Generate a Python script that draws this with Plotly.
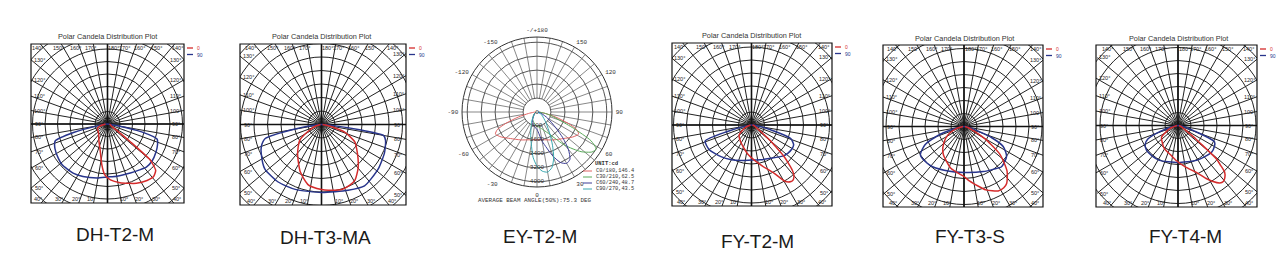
import math
import plotly.graph_objects as go

W, H = 1284, 259

# ---------------- data (relative intensity) ----------------
# DH-T2-M
dh_t2_m_theta_0 = [-90, -75, -65, -50, -39, -25, -15, -8, -3, 3, 12, 26, 35, 41, 46, 48, 50, 52, 55, 60, 75, 90]
dh_t2_m_r_0 = [2, 8, 11, 12, 14, 20, 28, 41, 51, 56, 60, 66, 69, 70, 67, 62, 55, 30, 12, 5, 3, 2]
dh_t2_m_theta_90 = [-90, -80, -76, -72, -65, -55, -48, -35, -25, -11, 0, 10, 25, 35, 42, 50, 60, 68, 73, 77, 80, 90]
dh_t2_m_r_90 = [0, 8, 35, 55, 58, 60, 61, 60, 58, 55, 53, 53, 54, 56, 58, 58, 56, 54, 52, 35, 10, 0]

# DH-T3-MA
dh_t3_ma_theta_0 = [-90, -75, -65, -54, -39, -24, -12, 0, 6, 18, 25, 31, 40, 47, 55, 62, 67, 72, 77, 82, 90]
dh_t3_ma_r_0 = [1, 6, 13, 27, 38, 52, 62, 65, 66, 68, 67, 65, 57, 50, 43, 38, 31, 24, 12, 5, 1]
dh_t3_ma_theta_90 = [-90, -85, -80, -76, -70, -64, -52, -37, -22, 0, 22, 35, 52, 66, 76, 80, 82, 85, 90]
dh_t3_ma_r_90 = [0, 6, 30, 58, 64, 67, 72, 72, 70, 68, 71, 75, 72, 69, 66, 63, 40, 10, 0]

# FY-T2-M
fy_t2_m_theta_0 = [-90, -70, -51, -33, -8, 13, 25, 31, 35, 37, 40, 42, 44, 46, 48, 50, 54, 60, 75, 90]
fy_t2_m_r_0 = [1, 6, 16, 20, 29, 41, 53, 66, 69, 69, 66, 61, 53, 45, 33, 25, 12, 6, 3, 1]
fy_t2_m_theta_90 = [-90, -80, -75, -71, -60, -44, -30, -17, 0, 15, 30, 45, 52, 60, 65, 71, 75, 80, 90]
fy_t2_m_r_90 = [0, 5, 25, 49, 49, 44, 40, 37, 35, 36, 38.5, 44, 46, 47, 46.5, 41.5, 23, 8, 0]

# FY-T3-S
fy_t3_s_theta_0 = [-90, -75, -65, -57, -45, -36, -17, 0, 6, 19, 28, 33, 37, 44, 52, 59, 65, 75, 90]
fy_t3_s_r_0 = [1, 8, 16, 22, 30, 35, 44, 50, 55, 67, 73, 73, 71, 62, 46, 26, 12, 4, 1]
fy_t3_s_theta_90 = [-90, -78, -72, -65, -57, -45, -38, -18, 0, 23, 35, 43, 55, 63, 68, 72, 80, 90]
fy_t3_s_r_90 = [0, 8, 25, 43, 52, 52, 51, 47, 46, 49, 52, 55, 52, 44, 30, 15, 5, 0]

# FY-T4-M
fy_t4_m_theta_0 = [-90, -70, -55, -40, -30, -15, -3, 10, 21, 28, 32, 36, 39, 42, 45, 47, 49, 51, 53, 56, 65, 90]
fy_t4_m_r_0 = [1, 8, 20, 24, 27, 30, 35, 42, 50, 60, 66, 71, 72, 70, 66, 58, 51, 32, 22, 12, 5, 1]
fy_t4_m_theta_90 = [-90, -78, -72, -66, -60, -52, -40, -28, 0, 28, 40, 51, 60, 66, 70, 78, 90]
fy_t4_m_r_90 = [0, 5, 18, 33, 38, 40, 40, 39.5, 37, 39.5, 41, 43, 42, 40, 22, 5, 0]

# EY-T2-M (cd)
ey_c0_theta = [-90, -85, -80, -75, -70, -66, -62, -55, -45, -30, -15, 0, 15, 30, 45, 55, 62, 66, 70, 75, 80, 85, 90]
ey_c0_r = [60, 200, 500, 1100, 1900, 2500, 2700, 2500, 2150, 1850, 1650, 1600, 1650, 1850, 2150, 2500, 2700, 2500, 1900, 1100, 500, 200, 60]
ey_c30_theta = [-90, -60, -45, -30, -15, 0, 10, 20, 30, 40, 48, 54, 58, 62, 66, 70, 75, 80, 90]
ey_c30_r = [50, 150, 300, 500, 650, 800, 900, 1100, 1500, 2500, 3400, 3900, 4000, 3500, 2300, 1400, 900, 500, 100]
ey_c60_theta = [-90, -60, -30, -15, 0, 10, 20, 25, 30, 35, 40, 45, 50, 60, 70, 90]
ey_c60_r = [50, 150, 500, 800, 1000, 1700, 2700, 3200, 3400, 3300, 2800, 2100, 1400, 700, 300, 50]
ey_c90_theta = [-90, -60, -30, -15, -5, 0, 5, 10, 15, 20, 25, 30, 40, 60, 90]
ey_c90_r = [50, 150, 600, 1400, 2600, 3100, 3400, 3500, 3300, 2800, 2100, 1500, 800, 300, 50]

ey_ring_values = [800, 1600, 2400, 3200, 4000]
ey_angle_ticks = [0, 30, 60, 90, 120, 150, 180, 210, 240, 270, 300, 330]
ey_angle_text = ["0", "30", "60", "90", "120", "150", "-/+180", "-150", "-120", "-90", "-60", "-30"]
ey_series_names = ["C0/180,146.4", "C30/210,62.5", "C60/240,48.7", "C90/270,43.5"]
ey_beam_text = "AVERAGE BEAM ANGLE(50%):75.3 DEG"

panel_names = ["DH-T2-M", "DH-T3-MA", "EY-T2-M", "FY-T2-M", "FY-T3-S", "FY-T4-M"]
legend_labels = ["0", "90"]
plot_title = "Polar Candela Distribution Plot"
top_marks = [140, 150, 160, 170]
side_marks = [130, 120, 110, 100, 90, 80, 70, 60, 50]
bottom_marks = [40, 30, 20, 10]

# ---------------- styling / layout ----------------
RED = "#d42b2b"
BLUE = "#28358c"
GRID = "#222222"
EY_COLORS = ["#e06464", "#5aaa5a", "#3c3c96", "#3aa8b0"]


def px(x):
    return x / W


def py(y):
    return 1 - y / H


frame_panels = [
    dict(sub="polar", fl=31, fr=184, ft=44, fb=203, cx=107.5, cy=124.0, R=107, ring=12.5,
         red=(dh_t2_m_theta_0, dh_t2_m_r_0), blue=(dh_t2_m_theta_90, dh_t2_m_r_90)),
    dict(sub="polar2", fl=240, fr=406, ft=44, fb=205, cx=321.5, cy=124.5, R=116, ring=13.5,
         red=(dh_t3_ma_theta_0, dh_t3_ma_r_0), blue=(dh_t3_ma_theta_90, dh_t3_ma_r_90)),
    dict(sub="polar4", fl=672, fr=832, ft=43, fb=206, cx=751.5, cy=125.0, R=114, ring=13,
         red=(fy_t2_m_theta_0, fy_t2_m_r_0), blue=(fy_t2_m_theta_90, fy_t2_m_r_90)),
    dict(sub="polar5", fl=883, fr=1043, ft=45, fb=207, cx=964.0, cy=126.5, R=114, ring=13,
         red=(fy_t3_s_theta_0, fy_t3_s_r_0), blue=(fy_t3_s_theta_90, fy_t3_s_r_90)),
    dict(sub="polar6", fl=1096, fr=1257, ft=45, fb=207, cx=1178.0, cy=125.5, R=105.5, ring=13,
         red=(fy_t4_m_theta_0, fy_t4_m_r_0), blue=(fy_t4_m_theta_90, fy_t4_m_r_90)),
]

fig = go.Figure()
polars = {}
masks, frames, annotations = [], [], []

LABEL_FONT = dict(family="Liberation Sans, Arial", size=5.5, color="#222")


def ann(x, y, text, font, xanchor="center", yanchor="middle"):
    annotations.append(dict(x=px(x), y=py(y), xref="paper", yref="paper", text=text,
                            showarrow=False, font=font, xanchor=xanchor, yanchor=yanchor))


def hit(p, th):
    t_r = math.radians(th)
    dx, dy = math.sin(t_r), math.cos(t_r)
    ts = []
    if dx < -1e-9:
        ts.append((p["cx"] - p["fl"]) / -dx)
    if dx > 1e-9:
        ts.append((p["fr"] - p["cx"]) / dx)
    if dy < -1e-9:
        ts.append((p["cy"] - p["ft"]) / -dy)
    if dy > 1e-9:
        ts.append((p["fb"] - p["cy"]) / dy)
    t = min(ts)
    return p["cx"] + dx * t, p["cy"] + dy * t


for p in frame_panels:
    s, cx, cy, R = p["sub"], p["cx"], p["cy"], p["R"]
    polars[s] = dict(
        domain=dict(x=[max(0, px(cx - R)), min(1, px(cx + R))], y=[py(cy + R), py(cy - R)]),
        bgcolor="rgba(0,0,0,0)",
        radialaxis=dict(range=[0, R], tick0=0, dtick=p["ring"], showline=False,
                        showticklabels=False, ticks="", gridcolor=GRID, gridwidth=0.75),
        angularaxis=dict(rotation=-90, direction="counterclockwise", dtick=10, showline=False,
                         showticklabels=False, ticks="", gridcolor=GRID, gridwidth=0.7),
    )
    # bold cross axes
    fig.add_trace(go.Scatterpolar(r=[R, 0, R, None, R, 0, R], theta=[180, 0, 0, None, -90, 0, 90],
                                  mode="lines", line=dict(color="#111", width=1.6),
                                  subplot=s, showlegend=False, hoverinfo="skip"))
    for (th, rr), col in ((p["blue"], BLUE), (p["red"], RED)):
        fig.add_trace(go.Scatterpolar(r=rr, theta=th, mode="lines",
                                      line=dict(color=col, width=1.5, shape="spline", smoothing=0.6),
                                      subplot=s, showlegend=False, hoverinfo="skip"))
    # masks outside frame
    fl, fr, ft, fb = p["fl"], p["fr"], p["ft"], p["fb"]
    for x0, x1, y0, y1 in ((cx - R - 3, fl, cy - R - 3, cy + R + 3),
                           (fr, cx + R + 3, cy - R - 3, cy + R + 3),
                           (fl, fr, cy - R - 3, ft),
                           (fl, fr, fb, cy + R + 3)):
        masks.append(dict(type="rect", xref="paper", yref="paper", x0=px(x0), x1=px(x1),
                          y0=py(y1), y1=py(y0), fillcolor="white", line=dict(width=0), layer="above"))
    frames.append(dict(type="rect", xref="paper", yref="paper", x0=px(fl), x1=px(fr),
                       y0=py(fb), y1=py(ft), line=dict(color="#111", width=1.2), layer="above"))
    # legend
    for i, (lab, col) in enumerate(zip(legend_labels, (RED, BLUE))):
        yy = ft + 4 + i * 6.5
        frames.append(dict(type="line", xref="paper", yref="paper", x0=px(fr + 3), x1=px(fr + 9),
                           y0=py(yy), y1=py(yy), line=dict(color=col, width=1.3), layer="above"))
        ann(fr + 10.5, yy, lab, dict(family="Liberation Sans, Arial", size=5, color=col), xanchor="left")
    # title
    ann(cx, ft - 7, plot_title, dict(family="Liberation Sans, Arial", size=7.3, color="#333"))
    # degree labels
    for a in top_marks:
        for sgn in (-1, 1):
            x, y = hit(p, sgn * a)
            ann(x + sgn * 3, ft + 4, f"{a}°", LABEL_FONT)
    x, y = hit(p, 180)
    ann(x + 6, ft + 4, "180°", LABEL_FONT)
    for a in side_marks:
        xl, yl = hit(p, -a)
        ann(fl + 8, yl, f"{a}°", LABEL_FONT)
        xr, yr = hit(p, a)
        ann(fr - 8, yr, f"{a}°", LABEL_FONT)
    for a in bottom_marks:
        for sgn in (-1, 1):
            x, y = hit(p, sgn * a)
            ann(x + sgn * 3, fb - 4.5, f"{a}°", LABEL_FONT)

# ---------------- EY-T2-M panel ----------------
ecx, ecy, eR = 537.0, 112.0, 75.0
ermax = 4300
MONO = "Liberation Mono, Courier New, monospace"
polars["polar3"] = dict(
    domain=dict(x=[px(ecx - eR), px(ecx + eR)], y=[py(ecy + eR), py(ecy - eR)]),
    bgcolor="rgba(0,0,0,0)",
    radialaxis=dict(range=[0, ermax], tickvals=ey_ring_values, showline=False, showticklabels=False,
                    ticks="", gridcolor="#555", gridwidth=0.7),
    angularaxis=dict(rotation=-90, direction="counterclockwise", tickvals=ey_angle_ticks,
                     ticktext=ey_angle_text, showgrid=False, showline=True, linecolor="#333", linewidth=1,
                     ticks="outside", ticklen=2, tickcolor="rgba(0,0,0,0)",
                     tickfont=dict(family=MONO, size=6, color="#333")),
)
spoke_r, spoke_t = [], []
for a in range(0, 360, 10):
    spoke_r += [ey_ring_values[0], ermax, None]
    spoke_t += [a, a, None]
fig.add_trace(go.Scatterpolar(r=spoke_r, theta=spoke_t, mode="lines", line=dict(color="#555", width=0.7),
                              subplot="polar3", showlegend=False, hoverinfo="skip"))
for (th, rr), col in zip(((ey_c0_theta, ey_c0_r), (ey_c30_theta, ey_c30_r),
                          (ey_c60_theta, ey_c60_r), (ey_c90_theta, ey_c90_r)), EY_COLORS):
    fig.add_trace(go.Scatterpolar(r=rr, theta=th, mode="lines",
                                  line=dict(color=col, width=1.0, shape="spline", smoothing=0.6),
                                  subplot="polar3", showlegend=False, hoverinfo="skip"))
ring_r = [0] + ey_ring_values
fig.add_trace(go.Scatterpolar(r=ring_r, theta=[0] * len(ring_r), mode="text",
                              text=[str(v) for v in ring_r],
                              textfont=dict(family=MONO, size=6, color="#333"),
                              subplot="polar3", showlegend=False, hoverinfo="skip"))
ann(620, 163, "<b>UNIT:cd</b>", dict(family=MONO, size=5.5, color="#333"), xanchor="right")
for i, (nm, col) in enumerate(zip(ey_series_names, EY_COLORS)):
    yy = 171 + i * 6
    frames.append(dict(type="line", xref="paper", yref="paper", x0=px(583), x1=px(592),
                       y0=py(yy), y1=py(yy), line=dict(color=col, width=1), layer="above"))
    ann(594, yy, nm, dict(family=MONO, size=5.3, color="#333"), xanchor="left")
ann(535, 200.5, ey_beam_text, dict(family=MONO, size=5.9, color="#333"))

# ---------------- bottom names ----------------
name_pos = [(115, 234), (326, 237), (540, 236), (757, 241), (970, 236), (1185, 236)]
for nm, (x, y) in zip(panel_names, name_pos):
    ann(x, y, nm, dict(family="Liberation Sans, Arial", size=19, color="#1a1a1a"))

fig.update_layout(
    width=W, height=H, margin=dict(l=0, r=0, t=0, b=0),
    paper_bgcolor="white", plot_bgcolor="white", showlegend=False,
    shapes=masks + frames, annotations=annotations, **polars,
)
fig.write_html("out.html")
